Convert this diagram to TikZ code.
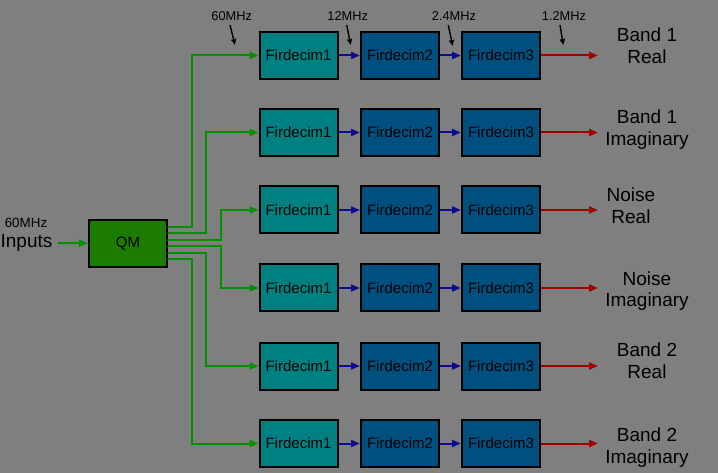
\documentclass[tikz,border=0pt]{standalone}
\usepackage{fontspec}
\setmainfont{Liberation Sans}
\usetikzlibrary{arrows.meta}
\definecolor{bg}{HTML}{7F7F7F}
\definecolor{tealbox}{HTML}{008080}
\definecolor{bluebox}{HTML}{00507F}
\definecolor{qmgreen}{HTML}{1C7C00}
\definecolor{gline}{HTML}{009000}
\definecolor{bline}{HTML}{0C0C90}
\definecolor{rline}{HTML}{A00000}
\begin{document}
\begin{tikzpicture}[x=1pt,y=-1pt,
  fbox/.style={draw=black,line width=2pt,minimum width=78pt,minimum height=47pt,inner sep=0pt,font=\fontsize{15}{18}\selectfont},
  fone/.style={fbox,fill=tealbox},
  ftwo/.style={fbox,fill=bluebox},
  qmbox/.style={fbox,fill=qmgreen},
  garr/.style={draw=gline,line width=2pt,-{Triangle[length=9pt,width=7pt]}},
  barr/.style={draw=bline,line width=2pt,-{Triangle[length=9pt,width=7pt]}},
  rarr/.style={draw=rline,line width=2pt,-{Triangle[length=9pt,width=7pt]}},
  parr/.style={draw=black,line width=1.4pt,-{Triangle[length=6pt,width=5pt]}},
  freq/.style={inner sep=0pt,font=\fontsize{12.8}{15}\selectfont},
  outlbl/.style={inner sep=0pt,align=center,font=\fontsize{19}{21.5}\selectfont}
]
\useasboundingbox (0,0) rectangle (718,473);
\fill[bg] (0,0) rectangle (718,473);

% rows
\foreach \r/\y in {1/55.5,2/132.5,3/210,4/288,5/366,6/443.5}{
  \node[fone] (a\r) at (298.5,\y) {Firdecim1};
  \node[ftwo] (b\r) at (400,\y) {Firdecim2};
  \node[ftwo] (c\r) at (501,\y) {Firdecim3};
  \coordinate (e\r) at (598,\y);
  \draw[barr] (a\r) -- (b\r);
  \draw[barr] (b\r) -- (c\r);
  \draw[rarr] (c\r) -- (e\r);
}

% output labels
\node[outlbl] (o1) at (647,45.7) {Band 1\\Real};
\node[outlbl] (o2) at (647,129.7) {Band 1\\Imaginary};
\node[outlbl] (o3) at (631,205.7) {Noise\\Real};
\node[outlbl] (o4) at (647,291.3) {Noise\\Imaginary};
\node[outlbl] (o5) at (647,360.7) {Band 2\\Real};
\node[outlbl] (o6) at (647,447.7) {Band 2\\Imaginary};

% QM and input
\node[qmbox] (qm) at (128,243.3) {QM};
\node[freq,font=\fontsize{13.4}{16}\selectfont] (inf) at (26,223) {60MHz};
\node[inner sep=0pt,font=\fontsize{19}{22}\selectfont] (inp) at (26.5,243) {Inputs};
\draw[garr] ([xshift=5pt]inp.east) -- (qm.west);

% QM outputs
\draw[garr] ([yshift=16.3pt]qm.east) -| (192,55.5) -- (a1.west);
\draw[garr] ([yshift=9.8pt]qm.east) -| (206,132.5) -- (a2.west);
\draw[garr] ([yshift=2.8pt]qm.east) -| (221,210) -- (a3.west);
\draw[garr] ([yshift=-3.2pt]qm.east) -| (221,288) -- (a4.west);
\draw[garr] ([yshift=-9.7pt]qm.east) -| (206,366) -- (a5.west);
\draw[garr] ([yshift=-16.2pt]qm.east) -| (192,443.5) -- (a6.west);

% frequency labels with pointers
\node[freq] (l1) at (231.7,16) {60MHz};
\node[freq] (l2) at (347.7,16) {12MHz};
\node[freq] (l3) at (454,16) {2.4MHz};
\node[freq] (l4) at (564,16) {1.2MHz};
\coordinate (p1) at (235,45);
\coordinate (p2) at (350.7,45);
\coordinate (p3) at (452.7,46);
\coordinate (p4) at (563.3,45);
\draw[parr] (230,25) -- (p1);
\draw[parr] (346.7,25) -- (p2);
\draw[parr] (448.3,25) -- (p3);
\draw[parr] (560,25) -- (p4);
\end{tikzpicture}
\end{document}
